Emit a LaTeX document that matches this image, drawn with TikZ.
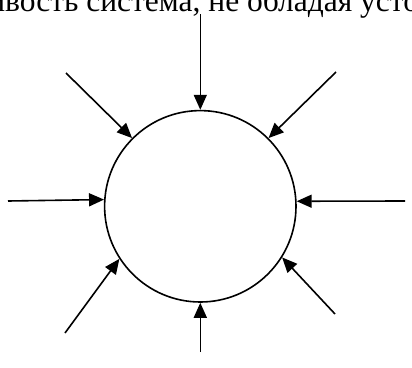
\documentclass[tikz,border=0pt]{standalone}
\usepackage{fontspec}
\setmainfont{Liberation Serif}
\usetikzlibrary{arrows.meta}
\begin{document}
\begin{tikzpicture}[x=1pt,y=-1pt,
  ray/.style={line width=1.6pt,-{Triangle[length=15pt,width=13pt]}},
  ring/.style={circle,draw,line width=1.6pt,inner sep=0pt,minimum size=191.4pt}]
\useasboundingbox (0,0) rectangle (412,367);
\clip (0,0) rectangle (412,367);
\node[anchor=base west,inner sep=0pt,font=\fontsize{31.5}{38}\selectfont] (txt) at (5,11.5) {\llap{и}вость система, не обладая устойчивостью};
\node[ring] (c) at (200.3,206.3) {};
\coordinate (tN) at (200.3,14);
\coordinate (tS) at (200.3,352);
\coordinate (tW) at (8,201);
\coordinate (tE) at (405,201);
\coordinate (tNW) at (66,73);
\coordinate (tNE) at (336,72);
\coordinate (tSW) at (65,333);
\coordinate (tSE) at (335,314);
\draw[ray] (tN) -- (c.90);
\draw[ray] (tS) -- (c.-90);
\draw[ray] (tW) -- (c.176.8);
\draw[ray] (tE) -- (c.3.2);
\draw[ray] (tNW) -- (c.135);
\draw[ray] (tNE) -- (c.45);
\draw[ray] (tSW) -- (c.213);
\draw[ray] (tSE) -- (c.-32.5);
\end{tikzpicture}
\end{document}
